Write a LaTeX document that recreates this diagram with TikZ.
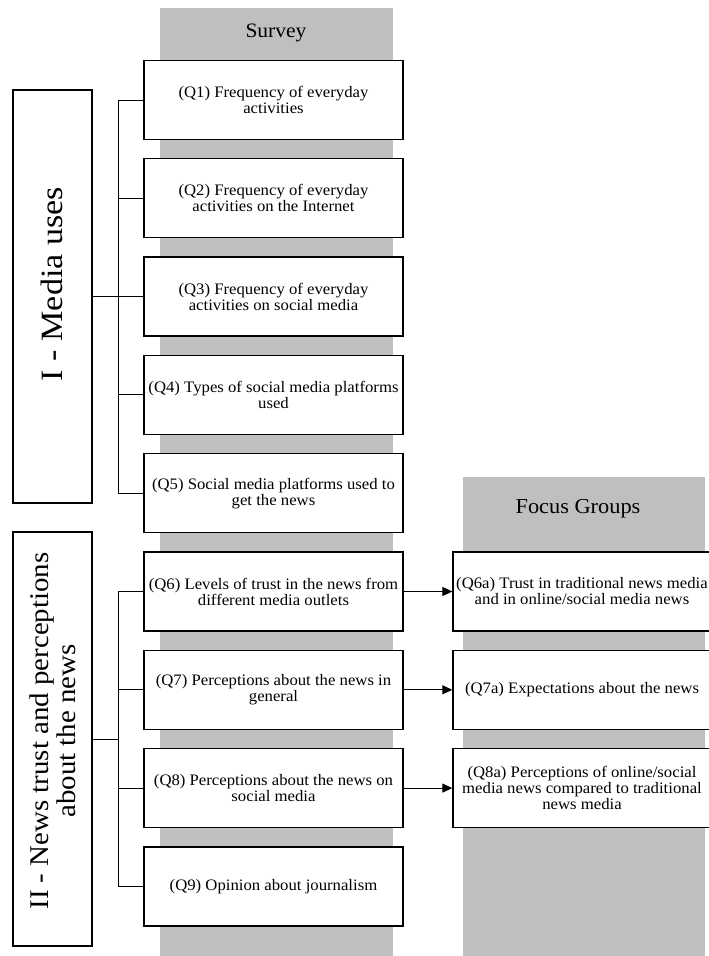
\documentclass[tikz,border=0pt]{standalone}
\usepackage{fontspec}
\setmainfont{Liberation Serif}
\newfontfamily\boxfont{Liberation Serif}[FakeStretch=1.045]
\newfontfamily\titlefont{Liberation Serif}[FakeStretch=1.05]
\newfontfamily\bigfontA{Liberation Serif}[FakeStretch=1.1]
\newfontfamily\bigfontB{Liberation Serif}[FakeStretch=1.07]
\usetikzlibrary{arrows.meta}
\definecolor{colbar}{RGB}{191,191,191}
\tikzset{
  qbox/.style={draw, line width=1.3pt, fill=white, minimum width=259pt, minimum height=79pt,
    align=center, inner sep=0pt, font=\boxfont\fontsize{16}{16}\selectfont},
  fbox/.style={qbox, minimum width=258pt},
  groupbox/.style={draw, line width=1.3pt, fill=white, minimum width=79pt, inner sep=0pt},
  grouptext/.style={rotate=90, align=center, inner sep=0pt},
  coltitle/.style={font=\titlefont\fontsize{20.5}{22}\selectfont, inner sep=0pt},
  branch/.style={line width=1pt},
  arr/.style={line width=1pt, -{Triangle[length=10pt,width=9pt]}}
}
\begin{document}
\begin{tikzpicture}[x=1pt,y=-1pt]
\useasboundingbox (0,0) rectangle (709,956);
% gray columns
\fill[colbar] (160,8) rectangle (393,956);
\fill[colbar] (463,477) rectangle (705,956);
\node[coltitle] (survey) at (276,33) {Survey};
\node[coltitle, font=\titlefont\fontsize{21.3}{23}\selectfont] (focus) at (578,509) {Focus Groups};

% survey boxes
\node[qbox] (q1) at (273.5,100) {(Q1) Frequency of everyday\\activities};
\node[qbox] (q2) at (273.5,198.3) {(Q2) Frequency of everyday\\activities on the Internet};
\node[qbox] (q3) at (273.5,296.6) {(Q3) Frequency of everyday\\activities on social media};
\node[qbox] (q4) at (273.5,394.9) {(Q4) Types of social media platforms\\used};
\node[qbox] (q5) at (273.5,493.2) {(Q5) Social media platforms used to\\get the news};
\node[qbox] (q6) at (273.5,591.5) {(Q6) Levels of trust in the news from\\different media outlets};
\node[qbox] (q7) at (273.5,689.8) {(Q7) Perceptions about the news in\\general};
\node[qbox] (q8) at (273.5,788.1) {(Q8) Perceptions about the news on\\social media};
\node[qbox] (q9) at (273.5,886.4) {(Q9) Opinion about journalism};

% focus group boxes
\node[fbox] (q6a) at (582,591.5) {(Q6a) Trust in traditional news media\\and in online/social media news};
\node[fbox] (q7a) at (582,689.8) {(Q7a) Expectations about the news};
\node[fbox] (q8a) at (582,788.1) {(Q8a) Perceptions of online/social\\media news compared to traditional\\news media};

% group boxes
\node[groupbox, minimum height=413pt] (g1) at (52.5,296.5) {};
\node[grouptext, font=\bigfontA\fontsize{31}{31}\selectfont] (g1t) at (52,284) {I - Media uses};
\node[groupbox, minimum height=414pt] (g2) at (52.5,739) {};
\node[grouptext, font=\bigfontB\fontsize{27}{27}\selectfont] (g2t) at (53,731) {II - News trust and perceptions\\about the news};

% brackets
\coordinate (j1) at (118,296.5);
\coordinate (j2) at (118,739);
\draw[branch] (g1.east) -- (j1);
\draw[branch] (q1.west) -| (j1 |- q5.west) -- (q5.west);
\foreach \q in {q2,q3,q4} \draw[branch] (\q.west) -- (j1 |- \q.west);
\draw[branch] (g2.east) -- (j2);
\draw[branch] (q6.west) -| (j2 |- q9.west) -- (q9.west);
\foreach \q in {q7,q8} \draw[branch] (\q.west) -- (j2 |- \q.west);

% arrows
\draw[arr] (q6.east) -- (q6a.west);
\draw[arr] (q7.east) -- (q7a.west);
\draw[arr] (q8.east) -- (q8a.west);
\end{tikzpicture}
\end{document}
